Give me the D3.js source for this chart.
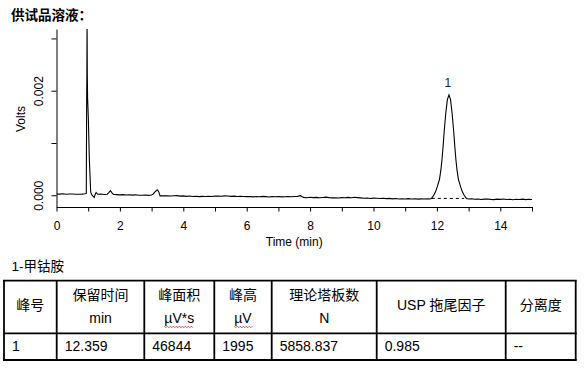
<!DOCTYPE html>
<html><head><meta charset="utf-8">
<script src="https://cdn.jsdelivr.net/npm/d3@7"></script>
<style>body{margin:0;background:#fff}svg{display:block}</style>
</head><body>
<svg id="c" width="586" height="369"></svg>
<script>
// ---------- data ----------
const chartTitle = "供试品溶液：";
const xLabel = "Time (min)";
const yLabel = "Volts";
const xTickValues = [0,1,2,3,4,5,6,7,8,9,10,11,12,13,14,15];
const xTickLabels = ["0","","2","","4","","6","","8","","10","","12","","14",""];
const yTickValues = [0, 0.001, 0.002, 0.003];
const yTickLabels = ["0.000","","0.002",""];

// chromatogram trace (time in min, signal in µV)
const traceTime = [
  0.0,0.1,0.2,0.3,0.4,0.5,0.6,0.7,0.8,0.9,0.94,
  0.952,0.958,0.964,0.972,0.981,1.003,1.035,1.079,1.12,1.16,1.19,1.22,1.25,
  1.3,1.4,1.5,1.6,1.65,1.70,1.75,1.8,1.9,2.0,2.1,2.2,2.3,2.4,2.5,2.6,2.7,2.8,2.9,3.0,
  3.05,3.1,3.15,3.19,3.23,3.27,3.3,3.4,3.5,3.6,3.7,3.8,3.9,4.0,4.1,4.2,4.3,4.4,4.5,4.6,4.7,4.8,4.9,
  5.0,5.1,5.2,5.3,5.4,5.5,5.6,5.7,5.8,5.9,6.0,6.1,6.2,6.3,6.4,6.5,6.6,6.7,6.8,6.9,
  7.0,7.1,7.2,7.3,7.4,7.5,7.6,7.7,7.75,7.8,7.9,8.0,8.1,8.2,8.3,8.4,8.5,8.6,8.7,8.8,8.9,
  9.0,9.1,9.2,9.3,9.4,9.5,9.6,9.7,9.8,9.9,10.0,10.1,10.2,10.3,10.4,10.5,10.6,10.7,10.8,10.9,
  11.0,11.1,11.2,11.3,11.4,11.5,11.6,11.7,11.78,
  11.83,11.90,11.96,12.01,12.08,12.125,12.16,12.195,12.23,12.28,12.33,12.38,
  12.43,12.48,12.53,12.565,12.60,12.635,12.68,12.75,12.80,12.86,12.93,
  13.0,13.1,13.2,13.3,13.4,13.5,13.6,13.7,13.8,13.9,14.0,14.1,14.2,14.3,14.4,14.5,14.6,14.7,14.8,14.9,15.0
];
const traceMicroVolts = [
  25,22,30,20,26,24,21,19,22,28,35,
  1900,2300,3400,2280,1860,1500,710,60,0,-20,-40,20,55,
  20,25,15,20,50,88,45,15,12,8,12,6,9,3,10,2,0,5,-2,6,
  25,60,90,100,60,-15,-10,-12,-8,-14,-10,-6,-16,-12,-20,-15,-22,-18,-25,-20,-24,-18,-22,
  -16,-14,-18,-12,-15,-20,-17,-24,-20,-22,-26,-24,-30,-22,-28,-20,-26,-32,-25,-28,
  -24,-30,-27,-26,-28,-24,-20,-8,-30,-40,-46,-38,-44,-40,-48,-42,-36,-44,-50,-46,-52,
  -44,-48,-40,-46,-38,-44,-50,-56,-52,-60,-54,-58,-62,-56,-64,-60,-68,-62,-70,-66,
  -72,-64,-70,-66,-74,-68,-72,-66,-70,
  -60,0,70,160,300,480,680,930,1220,1570,1830,1920,
  1830,1570,1220,930,680,480,300,160,70,0,-60,
  -72,-66,-76,-70,-80,-74,-70,-78,-82,-74,-78,-72,-80,-76,-84,-76,-80,-74,-82,-76,-80
];
// integration baseline of peak 1 (time, µV)
const peakBaselineTime = [11.84, 12.86];
const peakBaselineMicroVolts = [-60, -60];
const peakLabels = ["1"];
const peakTimes = [12.38];
const peakMicroVolts = [1920];

// results table
const tableCaption = "1-甲钴胺";
const tableHeaders = [["峰号"],["保留时间","min"],["峰面积","µV*s"],["峰高","µV"],["理论塔板数","N"],["USP 拖尾因子"],["分离度"]];
const tableRow = ["1","12.359","46844","1995","5858.837","0.985","--"];

// ---------- layout ----------
const svg = d3.select("#c");
const latin = "'Liberation Sans', Arial, sans-serif";
const cjk = "'Liberation Sans', 'Noto Sans CJK SC', sans-serif";

const x = d3.scaleLinear().domain([0, 15]).range([56.5, 532]);
const y = d3.scaleLinear().domain([-0.000224, 0.00318]).range([207, 29]);

svg.append("text").attr("x", 11).attr("y", 20)
  .style("font-family", cjk).style("font-weight", "bold").style("font-size", "13.5px")
  .text(chartTitle);

// clip
svg.append("clipPath").attr("id","plotclip").append("rect")
  .attr("x", 56.5).attr("y", 29).attr("width", 476).attr("height", 178);

const pts = traceTime.map((t,i)=>[t, traceMicroVolts[i]/1e6]);
const line = d3.line().x(d=>x(d[0])).y(d=>y(d[1]));
svg.append("path").attr("clip-path","url(#plotclip)")
  .attr("d", line(pts)).attr("fill","none").attr("stroke","#000").attr("stroke-width",1.1);

const bpts = peakBaselineTime.map((t,i)=>[t, peakBaselineMicroVolts[i]/1e6]);
svg.append("path").attr("d", line(bpts)).attr("fill","none")
  .attr("stroke","#000").attr("stroke-width",1).attr("stroke-dasharray","3,3");

svg.selectAll("text.pk").data(peakLabels).join("text").attr("class","pk")
  .attr("x",(d,i)=>x(peakTimes[i])-1).attr("y",(d,i)=>y(peakMicroVolts[i]/1e6)-8)
  .attr("text-anchor","middle").style("font-family",latin).style("font-size","12px")
  .attr("fill","#1c1450").text(d=>d);

// axes
const xa = svg.append("g").attr("transform","translate(0,207)")
  .call(d3.axisBottom(x).tickValues(xTickValues).tickSize(4.5).tickSizeOuter(0)
    .tickFormat((d,i)=>xTickLabels[i]));
xa.selectAll("text").style("font-family",latin).style("font-size","12px").attr("fill","#000")
  .attr("y", 22.5).attr("dy", 0);
const ya = svg.append("g").attr("transform","translate(56.5,0)")
  .call(d3.axisLeft(y).tickValues(yTickValues).tickSize(5).tickSizeOuter(0)
    .tickFormat((d,i)=>yTickLabels[i]));
ya.selectAll("text").style("font-family",latin).style("font-size","12px").attr("fill","#000")
  .attr("transform","rotate(-90)").attr("text-anchor","middle").attr("x",0).attr("y",-14).attr("dy",0);
svg.selectAll(".domain, .tick line").attr("stroke","#000").attr("stroke-width",1);

svg.append("text").attr("x",(56.5+532)/2).attr("y",246).attr("text-anchor","middle")
  .style("font-family",latin).style("font-size","12px").text(xLabel);
svg.append("text").attr("transform","translate(25,119) rotate(-90)").attr("text-anchor","middle")
  .style("font-family",latin).style("font-size","12px").text(yLabel);

// table
svg.append("text").attr("x", 11.5).attr("y", 271)
  .style("font-family",cjk).style("font-size","13.5px").text(tableCaption);
const colEdges = [4, 56.7, 144.3, 214.3, 271.7, 376.7, 505.7, 575.7];
const rowEdges = [280.7, 333.3, 360];
const tg = svg.append("g");
rowEdges.forEach(r=>tg.append("line").attr("x1",colEdges[0]-1).attr("x2",colEdges[colEdges.length-1]+1)
  .attr("y1",r).attr("y2",r).attr("stroke","#000").attr("stroke-width",1.8));
colEdges.forEach(c=>tg.append("line").attr("x1",c).attr("x2",c)
  .attr("y1",rowEdges[0]).attr("y2",rowEdges[2]).attr("stroke","#000").attr("stroke-width",1.8));

tableHeaders.forEach((h,i)=>{
  const cx = (colEdges[i]+colEdges[i+1])/2;
  if (h.length === 1) {
    tg.append("text").attr("x",cx).attr("y",310).attr("text-anchor","middle")
      .style("font-family",cjk).style("font-size","14px").text(h[0]);
  } else {
    tg.append("text").attr("x",cx).attr("y",300).attr("text-anchor","middle")
      .style("font-family",cjk).style("font-size","14px").text(h[0]);
    const t2 = tg.append("text").attr("x",cx).attr("y",322.5).attr("text-anchor","middle")
      .style("font-family",latin).style("font-size","14px").text(h[1]);
    if (h[1].indexOf("µ") === 0) {
      const bb = t2.node().getBBox();
      const zz = [];
      for (let xx = bb.x; xx <= bb.x + bb.width; xx += 1.5) zz.push([xx, 326.5 + ((Math.round((xx-bb.x)/1.5))%2 ? 1.2 : -0.3)]);
      tg.append("path").attr("d", d3.line()(zz)).attr("fill","none").attr("stroke","#e02020").attr("stroke-width",0.8);
    }
  }
});
tableRow.forEach((v,i)=>{
  tg.append("text").attr("x",colEdges[i]+8).attr("y",351)
    .style("font-family",latin).style("font-size","14px").text(v);
});
</script>
</body></html>
